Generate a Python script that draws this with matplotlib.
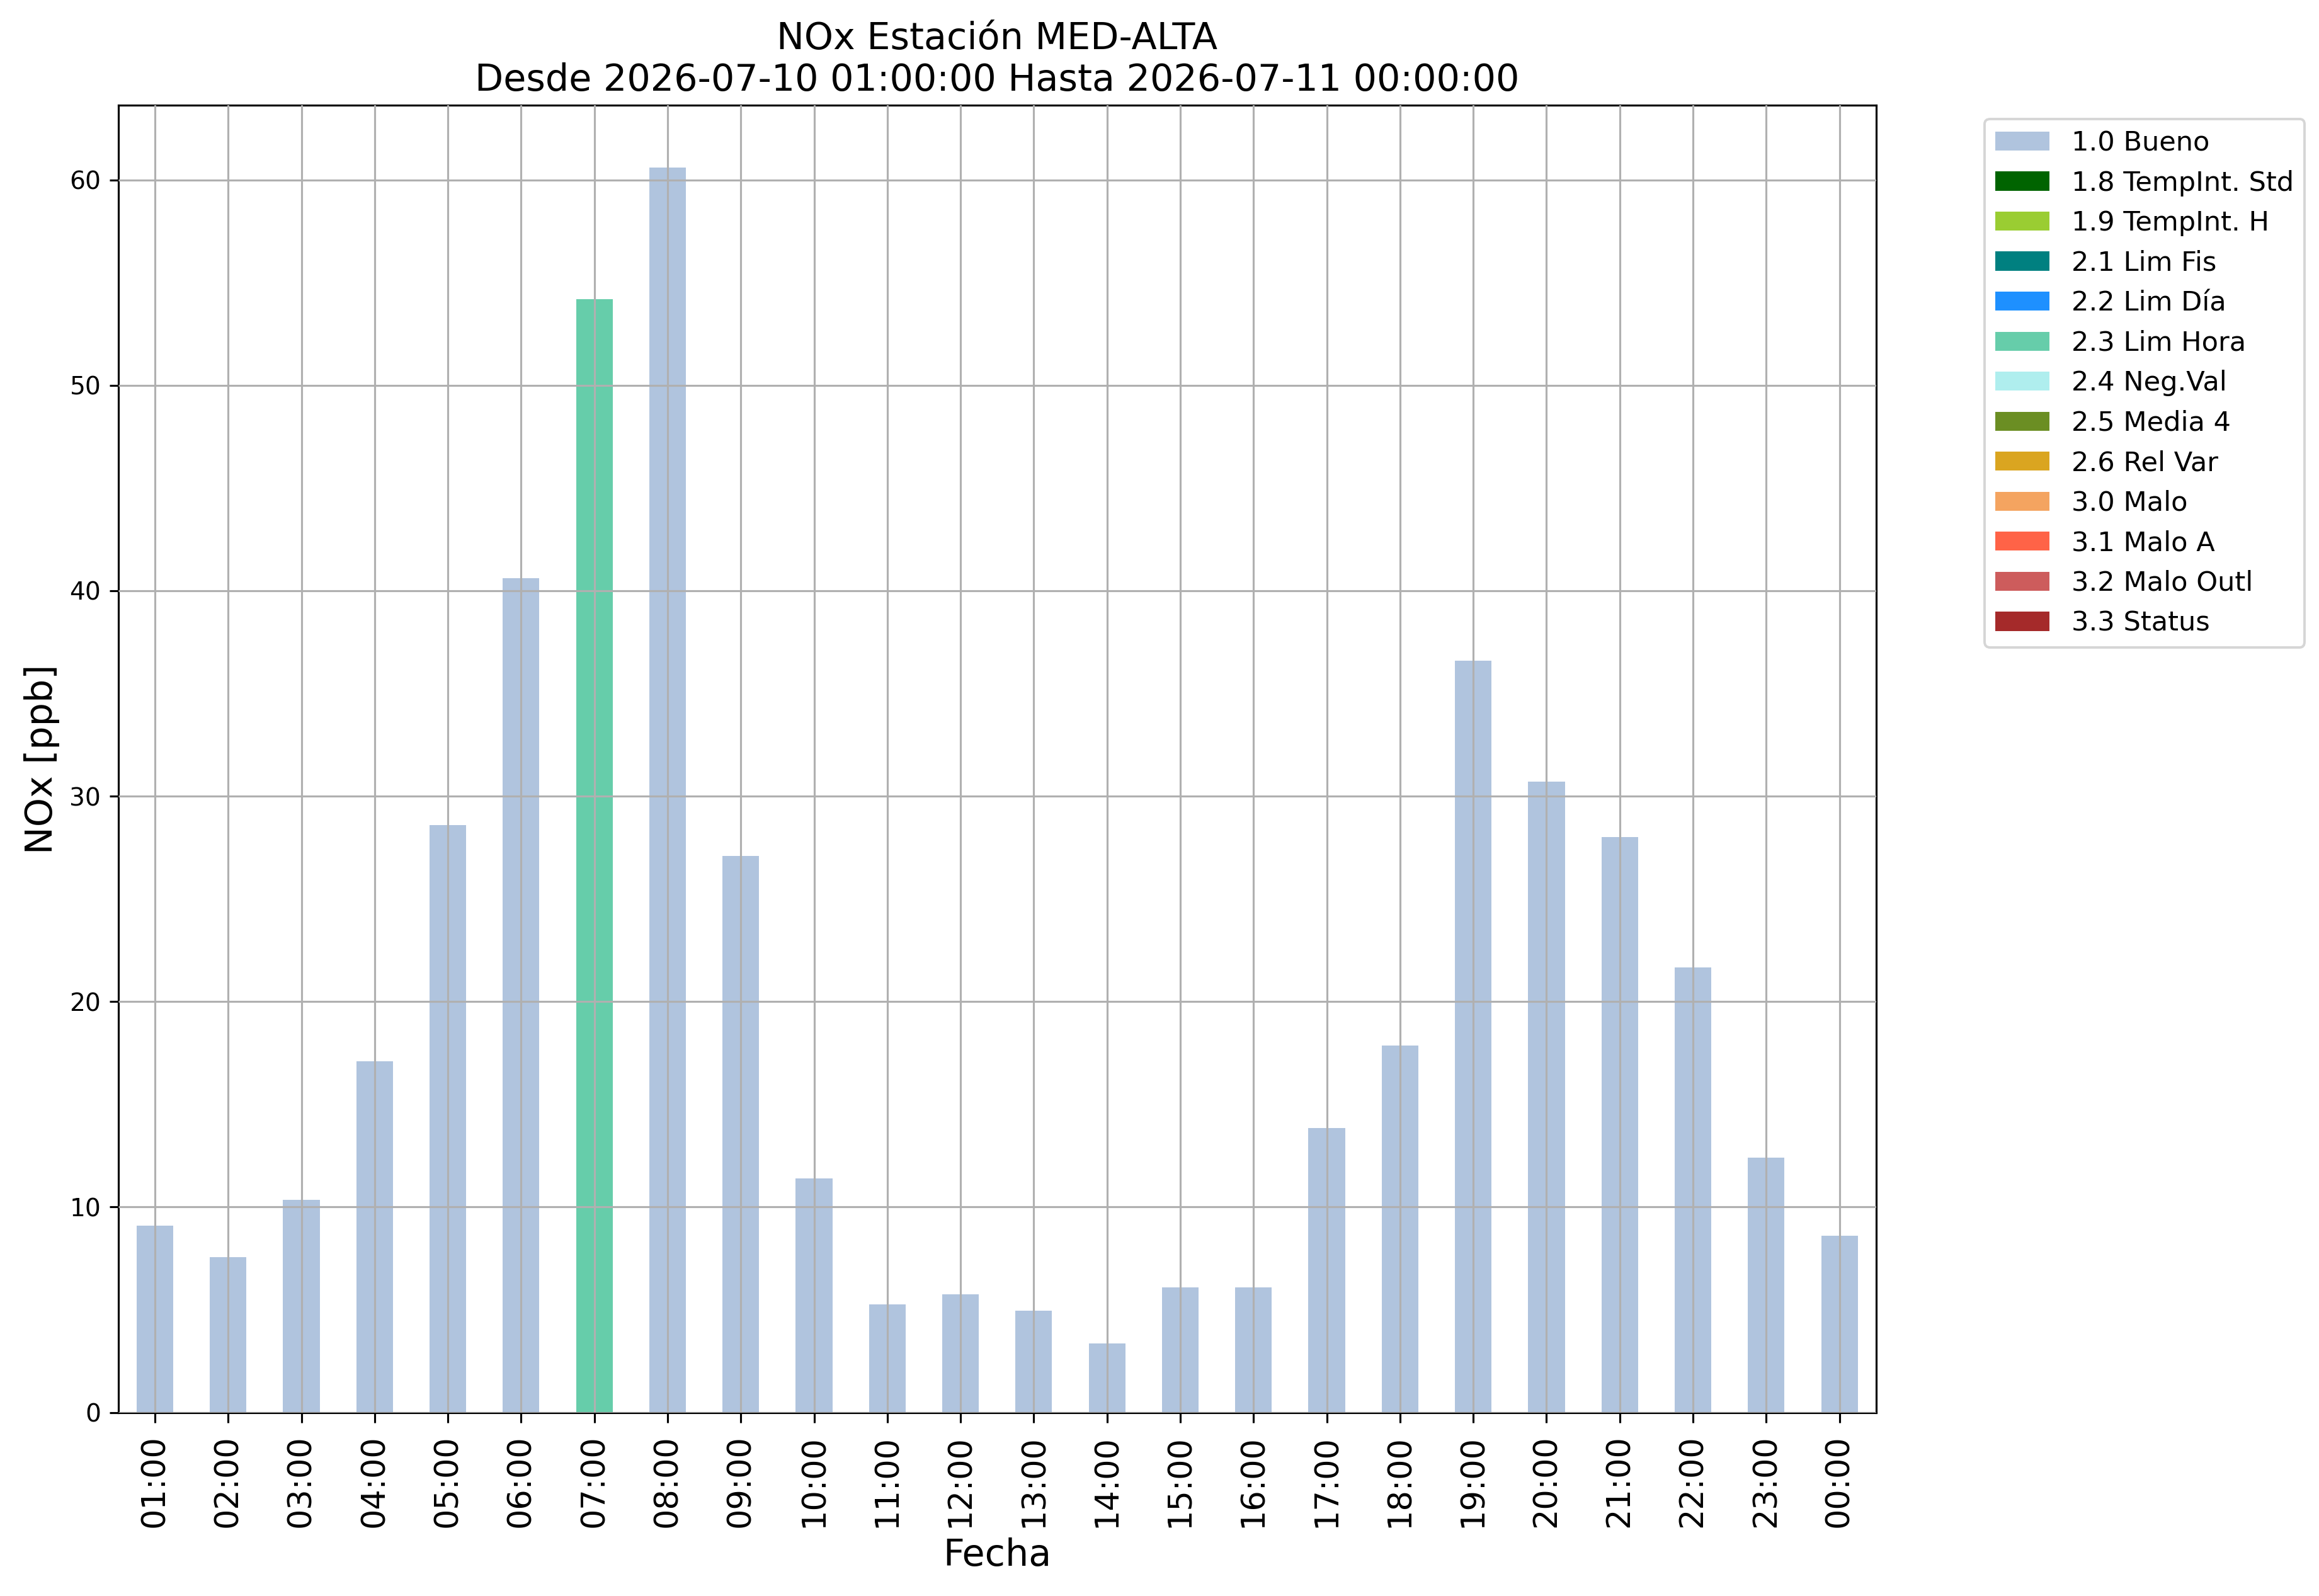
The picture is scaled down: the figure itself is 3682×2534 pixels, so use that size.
import numpy as np
import matplotlib
matplotlib.use("Agg")
import matplotlib.pyplot as plt

# horas y valores de NOx [ppb]
horas = ["01:00", "02:00", "03:00", "04:00", "05:00", "06:00", "07:00", "08:00",
         "09:00", "10:00", "11:00", "12:00", "13:00", "14:00", "15:00", "16:00",
         "17:00", "18:00", "19:00", "20:00", "21:00", "22:00", "23:00", "00:00"]
valores = [9.1, 7.55, 10.35, 17.1, 28.6, 40.6, 54.2, 60.6,
           27.1, 11.4, 5.25, 5.75, 4.95, 3.35, 6.1, 6.1,
           13.85, 17.85, 36.6, 30.7, 28.0, 21.65, 12.4, 8.6]
# bandera de calidad de cada hora
banderas = ["1.0 Bueno"] * 6 + ["2.3 Lim Hora"] + ["1.0 Bueno"] * 17

categorias = ["1.0 Bueno", "1.8 TempInt. Std", "1.9 TempInt. H", "2.1 Lim Fis",
              "2.2 Lim Día", "2.3 Lim Hora", "2.4 Neg.Val", "2.5 Media 4",
              "2.6 Rel Var", "3.0 Malo", "3.1 Malo A", "3.2 Malo Outl", "3.3 Status"]
colores = ["lightsteelblue", "darkgreen", "yellowgreen", "teal",
           "dodgerblue", "mediumaquamarine", "paleturquoise", "olivedrab",
           "goldenrod", "sandybrown", "tomato", "indianred", "brown"]

DPI = 282
fig = plt.figure(figsize=(3682 / DPI, 2534 / DPI), dpi=DPI)
ax = fig.add_axes([0.051, 0.115, 0.758, 0.819])

x = np.arange(len(horas))
bottom = np.zeros(len(horas))
for cat, col in zip(categorias, colores):
    h = np.array([v if b == cat else 0.0 for v, b in zip(valores, banderas)])
    ax.bar(x, h, width=0.5, bottom=bottom, color=col, label=cat)
    bottom += h

ax.set_xlim(-0.5, len(horas) - 0.5)
ax.set_ylim(0, max(valores) * 1.05)
ax.set_xticks(x)
ax.set_xticklabels(horas, rotation=90, fontsize=13)
ax.tick_params(axis="x", length=4, pad=5)
ax.tick_params(axis="y", labelsize=10)
ax.set_axisbelow(False)
ax.grid(True, color="#b0b0b0", linewidth=0.8)

ax.set_xlabel("Fecha", fontsize=15)
ax.set_ylabel("NOx [ppb]", fontsize=15)
ax.set_title("NOx Estación MED-ALTA\nDesde 2026-07-10 01:00:00 Hasta 2026-07-11 00:00:00",
             fontsize=15)

ax.legend(loc="upper left", bbox_to_anchor=(1.054, 1.0), fontsize=11)

fig.savefig("out.png", dpi=DPI)
